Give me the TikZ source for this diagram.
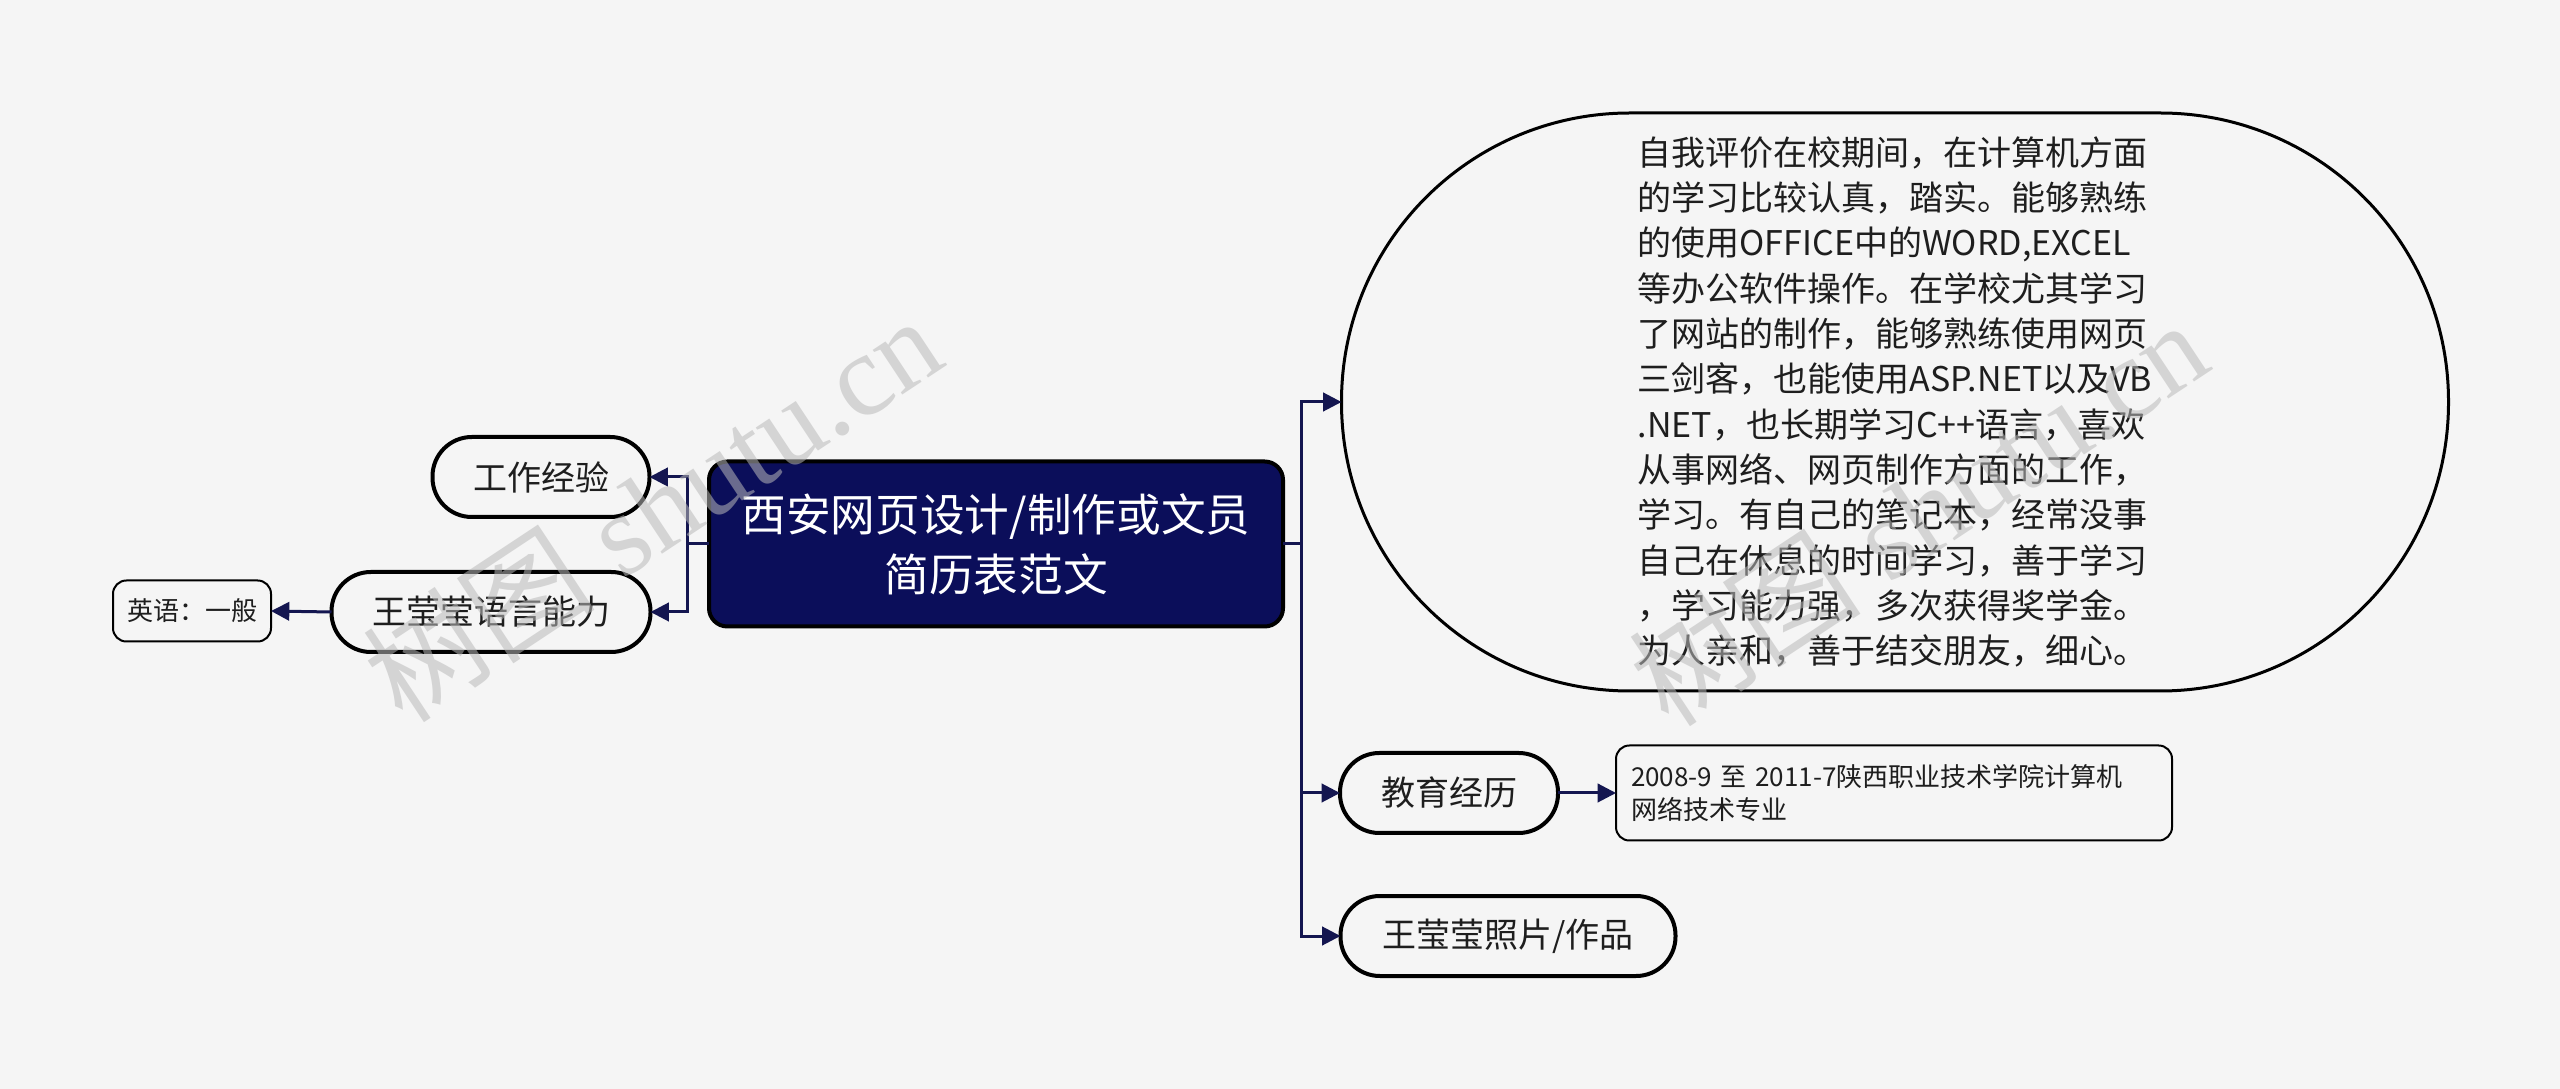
\documentclass[tikz,border=0pt]{standalone}
\usepackage{fontspec}
\setmainfont{Noto Sans CJK SC}
\newfontfamily\cjkfont{Noto Sans CJK SC}
\newfontfamily\wmserif{Liberation Serif}
\usetikzlibrary{arrows.meta}
\definecolor{bg}{HTML}{F5F5F5}
\definecolor{navy}{HTML}{0B0E5A}
\definecolor{connc}{HTML}{141650}
\definecolor{ink}{HTML}{1E1E1E}
\begin{document}
\begin{tikzpicture}[x=0.3pt,y=-0.3pt,
  every node/.style={inner sep=0pt, outer sep=0pt, align=center, text=ink},
  rootbox/.style={draw=black, line width=1.2pt, fill=navy, rounded corners=5.5pt, text=white,
    font=\fontsize{13.4pt}{18pt}\selectfont, minimum width=172.2pt, minimum height=49.5pt},
  pill/.style={draw=black, line width=1.2pt, fill=bg, rounded corners=11.8pt,
    font=\fontsize{10.2pt}{13pt}\selectfont, minimum height=24pt},
  bigpill/.style={draw=black, line width=0.9pt, fill=bg, rounded corners=86.5pt,
    font=\fontsize{10.2pt}{13.6pt}\selectfont, minimum width=332.1pt, minimum height=173.4pt, align=left},
  leafbox/.style={draw=black, line width=0.6pt, fill=bg, rounded corners=4pt,
    font=\fontsize{7.8pt}{9.8pt}\selectfont},
  connline/.style={draw=connc, line width=0.9pt},
  link/.style={connline, -{Triangle[length=5.5pt,width=5.5pt]}},
  wm/.style={text=gray!55, opacity=0.55, rotate=33.5, font=\wmserif\fontsize{35pt}{35pt}\selectfont}
]
\fill[bg] (0,0) rectangle (2560,1089);
\useasboundingbox (0,0) rectangle (2560,1089);

% nodes
\node[rootbox] (root) at (996,544) {西安网页设计/制作或文员\\简历表范文};
\node[pill, minimum width=65.1pt] (work) at (541,477) {工作经验};
\node[pill, minimum width=95.7pt] (lang) at (491,612) {王莹莹语言能力};
\node[leafbox, minimum width=47.4pt, minimum height=18.3pt] (eng) at (192,611) {英语：一般};
\node[bigpill] (big) at (1895,402) {自我评价在校期间，在计算机方面\\
的学习比较认真，踏实。能够熟练\\
的使用OFFICE中的WORD,EXCEL\\
等办公软件操作。在学校尤其学习\\
了网站的制作，能够熟练使用网页\\
三剑客，也能使用ASP.NET以及VB\\
.NET，也长期学习C++语言，喜欢\\
从事网络、网页制作方面的工作，\\
学习。有自己的笔记本，经常没事\\
自己在休息的时间学习，善于学习\\
，学习能力强，多次获得奖学金。\\
为人亲和，善于结交朋友，细心。};
\node[pill, minimum width=65.4pt] (edu) at (1449,793) {教育经历};
\node[leafbox, text width=157.8pt, inner xsep=4.5pt, minimum height=28.5pt, align=left] (edudet) at (1894,793)
  {2008-9 至 2011-7陕西职业技术学院计算机\\网络技术专业};
\node[pill, minimum width=100.5pt] (photo) at (1508,936) {王莹莹照片/作品};

% connectors
\coordinate (tR) at (1301,544);
\coordinate (tL) at (687,544);
\draw[connline] (root.east) -- (tR);
\draw[link] (tR) |- (big.west);
\draw[link] (tR) |- (edu.west);
\draw[link] (tR) |- (photo.west);
\draw[connline] (root.west) -- (tL);
\draw[link] (tL) |- (work.east);
\draw[link] (tL) |- (lang.east);
\draw[link] (lang.west) -- (eng.east);
\draw[link] (edu.east) -- (edudet.west);

% watermarks
\node[wm] (wm1) at (652,508) {{\cjkfont 树图} shutu.cn};
\node[wm] (wm2) at (1918,512) {{\cjkfont 树图} shutu.cn};
\end{tikzpicture}
\end{document}
